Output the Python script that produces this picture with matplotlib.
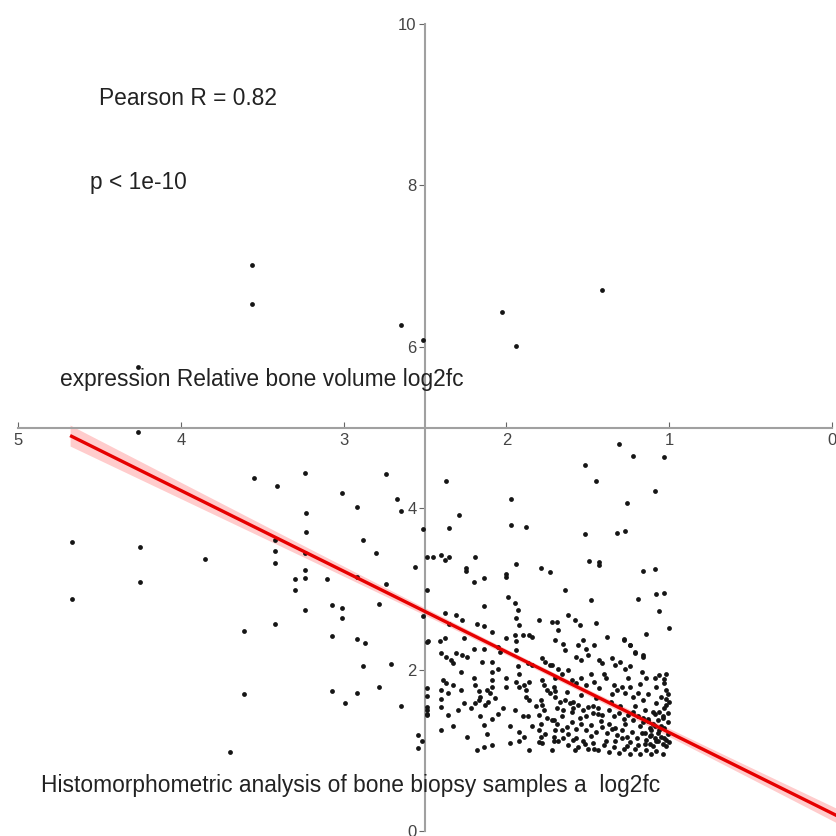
import matplotlib
matplotlib.use("Agg")
import matplotlib.pyplot as plt
import numpy as np

plt.rcParams['font.family'] = ['Liberation Sans', 'DejaVu Sans']

# points (x = histomorphometric log2fc, y = expression log2fc)
# sparse points above the x axis
x_top = [3.56, 3.56, 2.65, 2.51, 2.03, 1.94, 1.41, 4.26, 4.26]
y_top = [7.01, 6.53, 6.27, 6.08, 6.43, 6.01, 6.70, 5.75, 4.94]

# sparse points, left half
x_left = [3.55, 3.24, 3.41, 3.01, 2.74, 2.92, 2.67, 2.65, 3.23, 3.23, 2.51, 2.88, 2.80,
          3.42, 3.42, 3.42, 3.24, 3.85, 2.49, 2.56, 3.24, 3.24, 3.30, 3.30, 3.10, 2.92,
          2.74, 2.49, 2.78, 3.07, 3.01, 3.01, 3.24, 3.42, 2.51, 3.61, 3.07, 2.92, 2.87,
          2.49, 2.88, 2.71, 3.61, 3.07, 2.99, 2.92, 2.78, 2.65, 2.49, 2.49, 2.49, 2.49,
          2.54, 2.54, 3.70, 4.67, 4.67, 4.25, 4.25]
y_left = [4.38, 4.43, 4.27, 4.19, 4.42, 4.01, 4.11, 3.96, 3.94, 3.70, 3.74, 3.61, 3.44,
          3.61, 3.47, 3.32, 3.44, 3.37, 3.39, 3.27, 3.23, 3.13, 3.12, 2.99, 3.12, 3.15,
          3.06, 2.99, 2.81, 2.80, 2.76, 2.64, 2.74, 2.57, 2.66, 2.48, 2.42, 2.38, 2.33,
          2.34, 2.04, 2.07, 1.70, 1.73, 1.59, 1.71, 1.78, 1.55, 1.77, 1.67, 1.50, 1.45,
          1.19, 1.03, 0.98, 3.58, 2.87, 3.52, 3.09]

# sparse points, right half
x_right = [1.31, 1.22, 1.03, 1.52, 1.45, 1.09, 1.26, 2.37, 1.97, 2.29, 2.35, 1.97, 1.88,
           1.52, 1.32, 1.27, 2.45, 2.40, 2.38, 2.35, 2.19, 2.25, 2.25, 2.20, 2.14, 2.00,
           2.00, 1.94, 1.79, 1.73, 1.64, 1.49, 1.43, 1.43, 1.16, 1.09, 1.19, 1.08, 1.03,
           1.99, 1.48, 1.06, 1.00, 1.14, 1.38, 1.28, 1.24, 1.21, 1.16]
y_right = [4.80, 4.65, 4.64, 4.54, 4.34, 4.21, 4.06, 4.34, 4.11, 3.91, 3.75, 3.79, 3.77,
           3.68, 3.69, 3.72, 3.40, 3.42, 3.36, 3.39, 3.40, 3.26, 3.22, 3.08, 3.13, 3.19,
           3.15, 3.31, 3.26, 3.21, 2.99, 3.35, 3.33, 3.30, 3.22, 3.25, 2.88, 2.94, 2.95,
           2.90, 2.86, 2.73, 2.52, 2.44, 2.41, 2.38, 2.30, 2.20, 2.16]

# dense cluster, x between 1.7 and 2.5
x_mid = [2.14, 1.95, 1.93, 2.38, 2.31, 2.27, 2.18, 2.14, 2.35, 1.94, 1.92, 1.80, 1.72,
         1.69, 2.09, 2.00, 1.95, 1.90, 1.86, 1.84, 2.48, 2.41, 2.38, 2.26, 2.20, 2.14,
         2.05, 2.04, 1.94, 1.94, 2.40, 2.37, 2.34, 2.33, 2.31, 2.27, 2.24, 2.15, 2.09,
         1.87, 1.84, 1.78, 1.76, 1.73, 2.28, 2.09, 2.05, 1.93, 1.92, 2.39, 2.37, 2.33,
         2.19, 2.09, 2.09, 2.00, 2.00, 1.94, 1.92, 1.89, 1.88, 1.78, 1.77, 1.75, 1.71,
         1.70, 2.40, 2.40, 2.36, 2.17, 2.16, 2.17, 2.12, 2.10, 2.26, 2.22, 2.19, 2.13,
         2.11, 2.02, 1.88, 1.86, 1.79, 1.78, 1.77, 2.49, 2.49, 2.40, 2.36, 2.16, 2.09,
         2.14, 1.90, 1.87, 1.80, 1.79, 2.24, 1.92, 1.89, 1.80, 1.79, 1.78, 2.52, 2.18,
         2.14, 2.09, 1.98, 1.92, 1.86, 1.72, 1.71, 1.71, 1.70]
y_mid = [2.79, 2.82, 2.74, 2.70, 2.68, 2.62, 2.57, 2.54, 2.57, 2.64, 2.55, 2.62, 2.59,
         2.59, 2.47, 2.39, 2.43, 2.43, 2.43, 2.41, 2.35, 2.35, 2.39, 2.39, 2.26, 2.26,
         2.28, 2.22, 2.35, 2.24, 2.20, 2.16, 2.12, 2.08, 2.20, 2.18, 2.16, 2.10, 2.10,
         2.08, 2.06, 2.14, 2.10, 2.06, 1.97, 1.97, 2.01, 2.04, 1.95, 1.87, 1.83, 1.81,
         1.81, 1.87, 1.79, 1.89, 1.79, 1.85, 1.79, 1.81, 1.75, 1.87, 1.81, 1.75, 1.79,
         1.73, 1.75, 1.64, 1.71, 1.73, 1.66, 1.62, 1.75, 1.71, 1.58, 1.52, 1.58, 1.56,
         1.60, 1.52, 1.66, 1.62, 1.62, 1.56, 1.50, 1.54, 1.44, 1.54, 1.44, 1.42, 1.39,
         1.31, 1.42, 1.42, 1.44, 1.33, 1.17, 1.23, 1.17, 1.25, 1.17, 1.09, 1.11, 1.00,
         1.04, 1.07, 1.09, 1.11, 1.00, 1.00, 1.11, 1.38, 1.25]

# dense cluster, x between 1.0 and 1.7
x_low = [1.62, 1.58, 1.55, 1.68, 1.45, 1.70, 1.65, 1.64, 1.56, 1.53, 1.51, 1.46, 1.28,
         1.24, 1.21, 1.16, 1.57, 1.54, 1.50, 1.43, 1.41, 1.35, 1.33, 1.30, 1.27, 1.24,
         1.17, 1.14, 1.09, 1.06, 1.72, 1.68, 1.66, 1.62, 1.60, 1.57, 1.54, 1.51, 1.48,
         1.46, 1.43, 1.39, 1.34, 1.32, 1.29, 1.27, 1.24, 1.22, 1.19, 1.16, 1.08, 1.03,
         1.02, 1.05, 1.02, 1.02, 1.73, 1.70, 1.67, 1.64, 1.61, 1.59, 1.56, 1.53, 1.50,
         1.47, 1.44, 1.41, 1.37, 1.34, 1.31, 1.28, 1.25, 1.22, 1.19, 1.16, 1.13, 1.10,
         1.07, 1.04, 1.01, 1.72, 1.69, 1.66, 1.63, 1.60, 1.57, 1.54, 1.51, 1.48, 1.45,
         1.41, 1.38, 1.35, 1.32, 1.29, 1.26, 1.23, 1.20, 1.17, 1.14, 1.11, 1.08, 1.05,
         1.02, 1.71, 1.68, 1.65, 1.62, 1.59, 1.56, 1.53, 1.50, 1.47, 1.44, 1.40, 1.37,
         1.34, 1.31, 1.28, 1.24, 1.21, 1.18, 1.14, 1.11, 1.08, 1.04]
y_low = [2.68, 2.61, 2.55, 2.49, 2.58, 2.37, 2.32, 2.24, 2.30, 2.37, 2.26, 2.30, 2.37,
         2.30, 2.22, 2.18, 2.16, 2.12, 2.18, 2.12, 2.08, 2.14, 2.06, 2.10, 2.01, 2.04,
         1.97, 1.89, 1.89, 1.93, 2.06, 2.01, 1.95, 1.99, 1.87, 1.83, 1.89, 1.81, 1.95,
         1.85, 1.77, 1.89, 1.81, 1.75, 1.79, 1.71, 1.79, 1.66, 1.71, 1.62, 1.79, 1.83,
         1.75, 1.66, 1.64, 1.56, 1.71, 1.66, 1.60, 1.62, 1.58, 1.52, 1.56, 1.50, 1.54,
         1.46, 1.52, 1.44, 1.50, 1.42, 1.46, 1.39, 1.44, 1.38, 1.42, 1.35, 1.39, 1.33,
         1.38, 1.42, 1.35, 1.38, 1.33, 1.42, 1.29, 1.35, 1.27, 1.33, 1.25, 1.31, 1.23,
         1.29, 1.21, 1.27, 1.19, 1.25, 1.17, 1.23, 1.15, 1.21, 1.13, 1.19, 1.11, 1.17,
         1.13, 1.17, 1.11, 1.15, 1.07, 1.13, 1.04, 1.11, 1.02, 1.09, 1.00, 1.07, 0.98,
         1.04, 0.97, 1.02, 0.96, 1.01, 0.95, 1.00, 0.95, 0.99, 0.96]

# extra points filling the darkest part of the cluster
x_fill = [1.02, 1.01, 1.03, 1.01, 1.03, 1.01, 1.03, 1.02, 1.00, 1.00, 1.06, 1.09, 1.12,
          1.15, 1.18, 1.21, 1.24, 1.27, 1.30, 1.33, 1.36, 1.39, 1.42, 1.45, 1.48, 1.51,
          1.54, 1.57, 1.60, 1.63, 1.66, 1.69, 1.12, 1.19, 1.26, 1.33, 1.46, 1.58, 1.08,
          1.13, 1.18, 1.25, 1.10, 1.15, 1.35, 1.40, 1.47, 1.55, 1.62, 1.05, 1.09, 1.16,
          1.22, 1.29, 1.37, 1.44, 1.52, 1.59, 1.65, 1.70, 1.75, 1.80, 1.84, 1.76, 1.82,
          1.86, 1.95, 1.98, 2.05, 2.07, 2.12, 2.20, 2.28, 2.30, 2.33, 2.40,
          1.04, 1.07, 1.10, 1.13, 1.03, 1.06, 1.09, 1.12, 1.15, 1.04, 1.07, 1.11]
y_fill = [1.05, 1.20, 1.28, 1.46, 1.52, 1.70, 1.88, 1.95, 1.60, 1.10, 1.25, 1.45, 1.28,
          1.50, 1.30, 1.55, 1.10, 1.32, 1.55, 1.28, 1.60, 1.12, 1.36, 1.65, 1.18, 1.42,
          1.68, 1.15, 1.48, 1.72, 1.25, 1.52, 1.08, 1.06, 1.05, 1.12, 1.02, 1.00, 1.58,
          1.70, 1.82, 1.90, 1.48, 1.22, 1.70, 1.95, 1.55, 1.40, 1.20, 1.30, 1.15, 1.40,
          1.47, 1.15, 1.33, 1.45, 1.08, 1.60, 1.50, 1.90, 1.40, 1.10, 1.30, 1.20, 1.55,
          1.85, 1.50, 1.30, 1.45, 1.65, 1.20, 1.90, 1.75, 1.50, 1.30, 1.25,
          1.08, 1.22, 1.05, 1.36, 1.15, 1.48, 1.30, 1.18, 1.08, 1.40, 1.12, 1.25]

# regression line and its confidence band, as drawn in the picture
fit_slope = 1.0
fit_intercept = 0.22
fit_x_start = 4.68
band_half_left = 0.13   # half width of the band at the left end of the line
band_half_mid = 0.035   # half width near the centre of the data

pearson_text = "Pearson R = 0.82"
p_text = "p < 1e-10"
xlabel = "Histomorphometric analysis of bone biopsy samples a  log2fc"
ylabel = "expression Relative bone volume log2fc"
x_ticks = [0, 1, 2, 3, 4, 5]
y_ticks = [0, 2, 4, 6, 8, 10]

x = np.array(x_top + x_left + x_right + x_mid + x_low + x_fill)
y = np.array(y_top + y_left + y_right + y_mid + y_low + y_fill)

fig = plt.figure(figsize=(8.37, 8.36), dpi=100)
ax = fig.add_axes([18 / 837, 5 / 836, 814 / 837, 807 / 836])
ax.set_xlim(5, 0)
ax.set_ylim(0, 10)

# line + band (band widens away from the centre of the data)
xs = np.linspace(fit_x_start, -0.05, 200)
ys = fit_slope * xs + fit_intercept
xm = x.mean()
k = np.sqrt(((fit_x_start - xm) ** 2) / (band_half_left ** 2 / band_half_mid ** 2 - 1))
half = band_half_mid * np.sqrt(1 + (xs - xm) ** 2 / k ** 2)
ax.fill_between(xs, ys - half, ys + half, color='#ff8080', alpha=0.4, lw=0, zorder=2, clip_on=False)

ax.scatter(x, y, s=12, color='#151515', lw=0, zorder=3)
ax.plot(xs, ys, color='#e60000', lw=2.4, zorder=4, solid_capstyle='butt', clip_on=False)

# spines through the middle
for side in ['top', 'right']:
    ax.spines[side].set_visible(False)
ax.spines['left'].set_position(('data', 2.5))
ax.spines['bottom'].set_position(('data', 5))
for side in ['left', 'bottom']:
    ax.spines[side].set_color('#a0a0a0')
    ax.spines[side].set_linewidth(1.5)
ax.set_xticks(x_ticks)
ax.set_yticks(y_ticks)
ax.tick_params(axis='x', direction='in', length=4, color='#666666', labelsize=12, labelcolor='#444444', pad=4)
ax.tick_params(axis='y', direction='out', length=4, color='#666666', labelsize=12, labelcolor='#444444', pad=2)

ax.text(4.50, 9.08, pearson_text, fontsize=16.4, color='#222222', va='center')
ax.text(4.56, 8.03, p_text, fontsize=16.4, color='#222222', va='center')
ax.text(4.74, 5.59, ylabel, fontsize=16.4, color='#222222', va='center')
ax.text(4.86, 0.56, xlabel, fontsize=16.4, color='#222222', va='center')

fig.savefig("out.png", dpi=100)
